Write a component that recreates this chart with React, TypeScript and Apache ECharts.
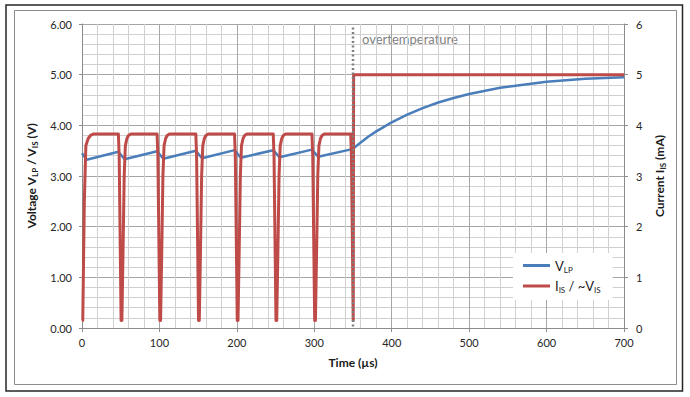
import React, { useEffect, useRef } from "react";
import * as echarts from "echarts";

const timeTicks = [0, 100, 200, 300, 400, 500, 600, 700];
const voltTicks = ["0.00", "1.00", "2.00", "3.00", "4.00", "5.00", "6.00"];
const currentTicks = ["0", "1", "2", "3", "4", "5", "6"];

// V_LP (V) : [time µs, value]
const vlp: [number, number][] = [
  [0, 3.45], [6, 3.32], [47, 3.48], [55, 3.33], [97, 3.49], [105, 3.34],
  [147, 3.5], [155, 3.35], [197, 3.51], [205, 3.36], [247, 3.51], [255, 3.37],
  [297, 3.52], [305, 3.38], [349, 3.53], [360, 3.66], [370, 3.78], [380, 3.88],
  [390, 3.97], [400, 4.06], [420, 4.21], [440, 4.34], [460, 4.45], [480, 4.54],
  [500, 4.62], [540, 4.74], [570, 4.8], [600, 4.86], [650, 4.92], [700, 4.95],
];

// I_IS (mA) : [time µs, value]
const iis: [number, number][] = [
  [0, 0.15], [1, 0.15], [3, 2.5], [5, 3.6], [8, 3.74], [11, 3.8], [15, 3.83],
  [47, 3.83], [48, 3.4], [50.5, 0.15],
  [51.5, 0.15], [53, 1.5], [54.5, 3.0], [56, 3.6], [58, 3.74], [60, 3.8], [63, 3.83],
  [97, 3.83], [98, 3.4], [100.5, 0.15],
  [101.5, 0.15], [103, 1.5], [104.5, 3.0], [106, 3.6], [108, 3.74], [110, 3.8], [113, 3.83],
  [147, 3.83], [148, 3.4], [150.5, 0.15],
  [151.5, 0.15], [153, 1.5], [154.5, 3.0], [156, 3.6], [158, 3.74], [160, 3.8], [163, 3.83],
  [197, 3.83], [198, 3.4], [200.5, 0.15],
  [201.5, 0.15], [203, 1.5], [204.5, 3.0], [206, 3.6], [208, 3.74], [210, 3.8], [213, 3.83],
  [247, 3.83], [248, 3.4], [250.5, 0.15],
  [251.5, 0.15], [253, 1.5], [254.5, 3.0], [256, 3.6], [258, 3.74], [260, 3.8], [263, 3.83],
  [297, 3.83], [298, 3.4], [300.5, 0.15],
  [301.5, 0.15], [303, 1.5], [304.5, 3.0], [306, 3.6], [308, 3.74], [310, 3.8], [313, 3.83],
  [347, 3.83], [348, 3.4], [350.3, 0.15],
  [350.8, 5.0], [700, 5.0],
];

// overtemperature marker line
const overTempLine: [number, number][] = [[350, 0.03], [350, 5.95]];

const FONT = "Lato";

export default function App() {
  const ref = useRef<HTMLDivElement>(null);
  useEffect(() => {
    if (!ref.current) return;
    const chart = echarts.init(ref.current, null, { renderer: "svg" });
    const nameRich = {
      b: { fontSize: 12, fontWeight: "bold", fontFamily: FONT, color: "#1a1a1a", lineHeight: 16, verticalAlign: "middle" },
      s: { fontSize: 8, fontWeight: "bold", fontFamily: FONT, color: "#1a1a1a", lineHeight: 10, verticalAlign: "bottom" },
    };
    const axisLabelStyle = { fontFamily: FONT, fontSize: 11, color: "#262626" };
    chart.setOption({
      animation: false,
      backgroundColor: "#ffffff",
      textStyle: { fontFamily: FONT },
      grid: { left: 82, right: 66, top: 24, bottom: 69 },
      legend: {
        orient: "vertical",
        left: 513,
        top: 253,
        backgroundColor: "#ffffff",
        padding: [6, 12, 6, 10],
        itemGap: 6,
        itemWidth: 27,
        itemHeight: 3,
        icon: "rect",
        data: ["VLP", "IIS"],
        formatter: (name: string) =>
          name === "VLP" ? "{n|V}{s|LP}" : "{n|I}{s|IS}{n| / ~V}{s|IS}",
        textStyle: {
          rich: {
            n: { fontSize: 13, fontFamily: FONT, color: "#1a1a1a", lineHeight: 16, verticalAlign: "middle" },
            s: { fontSize: 8, fontFamily: FONT, color: "#1a1a1a", lineHeight: 10, verticalAlign: "bottom" },
          },
        },
      },
      xAxis: {
        type: "value",
        min: timeTicks[0],
        max: timeTicks[timeTicks.length - 1],
        interval: 100,
        name: "Time (µs)",
        nameLocation: "middle",
        nameGap: 28,
        nameTextStyle: { fontFamily: FONT, fontSize: 12, fontWeight: "bold", color: "#1a1a1a" },
        axisLine: { show: true, lineStyle: { color: "#8c8c8c", width: 1 } },
        axisTick: { show: true, length: 4, lineStyle: { color: "#8c8c8c" } },
        axisLabel: { ...axisLabelStyle, margin: 9 },
        splitLine: { show: true, lineStyle: { color: "#a6a6a6", width: 1 } },
        minorTick: { show: false, splitNumber: 5 },
        minorSplitLine: { show: true, lineStyle: { color: "#d0d0d0", width: 1 } },
      },
      yAxis: [
        {
          type: "value",
          min: 0,
          max: 6,
          interval: 1,
          position: "left",
          name: "{b|Voltage V}{s|LP}{b| / V}{s|IS}{b| (V)}",
          nameLocation: "middle",
          nameRotate: 90,
          nameGap: 38,
          nameTextStyle: { rich: nameRich },
          axisLine: { show: true, lineStyle: { color: "#8c8c8c", width: 1 } },
          axisTick: { show: true, length: 3, lineStyle: { color: "#8c8c8c" } },
          axisLabel: {
            ...axisLabelStyle,
            margin: 10,
            formatter: (v: number) => voltTicks[Math.round(v)],
          },
          splitLine: { show: true, lineStyle: { color: "#a6a6a6", width: 1 } },
          minorTick: { show: false, splitNumber: 5 },
          minorSplitLine: { show: true, lineStyle: { color: "#d0d0d0", width: 1 } },
        },
        {
          type: "value",
          min: 0,
          max: 6,
          interval: 1,
          position: "right",
          name: "{b|Current I}{s|IS}{b| (mA)}",
          nameLocation: "middle",
          nameRotate: 90,
          nameGap: 16,
          nameTextStyle: { rich: nameRich },
          axisLine: { show: true, lineStyle: { color: "#8c8c8c", width: 1 } },
          axisTick: { show: true, length: 4, lineStyle: { color: "#8c8c8c" } },
          axisLabel: {
            ...axisLabelStyle,
            margin: 12,
            formatter: (v: number) => currentTicks[Math.round(v)],
          },
          splitLine: { show: false },
        },
      ],
      series: [
        {
          name: "VLP",
          type: "line",
          data: vlp,
          yAxisIndex: 0,
          showSymbol: false,
          symbol: "none",
          color: "#4a7ebb",
          lineStyle: { color: "#4a7ebb", width: 2.5 },
          z: 3,
        },
        {
          name: "IIS",
          type: "line",
          data: iis,
          yAxisIndex: 1,
          showSymbol: false,
          symbol: "none",
          color: "#be4b48",
          lineStyle: { color: "#be4b48", width: 3, join: "round" },
          z: 4,
        },
        {
          name: "overtemp",
          type: "line",
          data: overTempLine,
          yAxisIndex: 0,
          showSymbol: false,
          symbol: "none",
          lineStyle: { color: "#7f7f7f", width: 2.5, type: [2, 2.5] },
          z: 5,
        },
      ],
      graphic: [
        {
          type: "rect",
          shape: { x: 6, y: 5, width: 676.5, height: 386 },
          style: { fill: "none", stroke: "#262626", lineWidth: 1.5 },
          silent: true,
        },
        {
          type: "rect",
          shape: { x: 14.5, y: 10.5, width: 662, height: 374 },
          style: { fill: "none", stroke: "#8c8c8c", lineWidth: 1 },
          silent: true,
        },
        {
          type: "text",
          left: 362,
          top: 32,
          style: { text: "overtemperature", fontFamily: FONT, fontSize: 13, fill: "#7f7f7f" },
          silent: true,
        },
      ],
    });
    return () => chart.dispose();
  }, []);
  return (
    <div
      ref={ref}
      style={{ position: "fixed", left: 0, top: 0, width: 690, height: 397 }}
    />
  );
}
